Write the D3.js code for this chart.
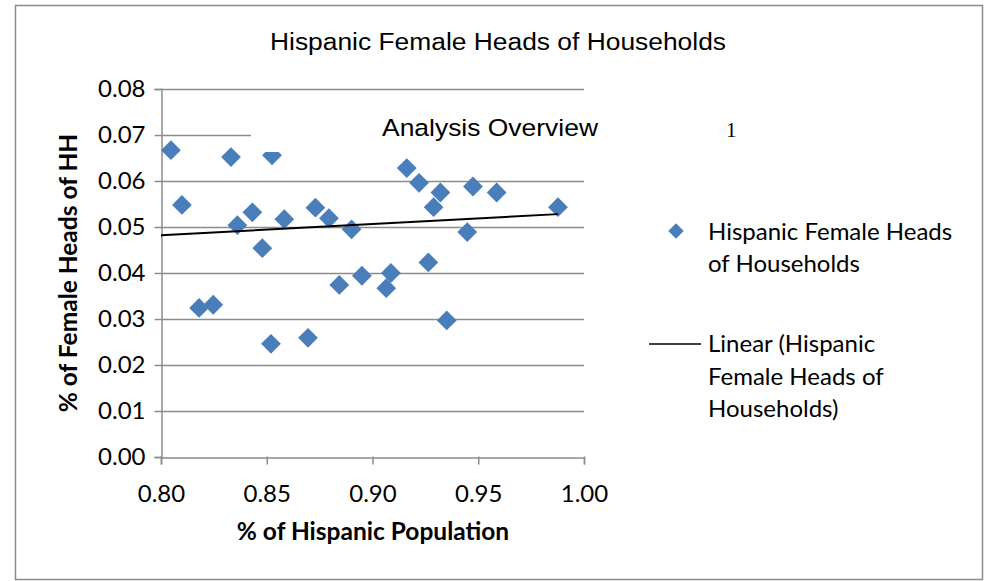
<!DOCTYPE html>
<html>
<head>
<meta charset="utf-8">
<script src="https://cdn.jsdelivr.net/npm/d3@7"></script>
<style>
  html, body { margin: 0; padding: 0; background: #fff; }
  svg { display: block; }
</style>
</head>
<body>
<svg id="chart" width="989" height="581"></svg>
<script>
// Share of Hispanic population per area (x) and share of female heads of households (y)
const hispanicShare = [
  0.8047, 0.8099, 0.8180, 0.8247, 0.8331, 0.8361, 0.8432, 0.8479, 0.8525, 0.8583,
  0.8520, 0.8592, 0.8730, 0.8794, 0.8901, 0.8843, 0.8950, 0.8695, 0.9162, 0.9220,
  0.9321, 0.9289, 0.9475, 0.9587, 0.9877, 0.9448, 0.9264, 0.9087, 0.9065, 0.9351,
  0.9584
];
const femaleHeads = [
  0.0667, 0.0548, 0.0324, 0.0331, 0.0652, 0.0504, 0.0532, 0.0454, 0.0656, 0.0517,
  0.0246, 0.0754, 0.0542, 0.0519, 0.0495, 0.0374, 0.0394, 0.0259, 0.0628, 0.0596,
  0.0575, 0.0543, 0.0588, 0.0575, 0.0543, 0.0489, 0.0423, 0.0400, 0.0367, 0.0297,
  0.0754
];
// linear trendline coefficients: y = intercept + slope * x
const trendIntercept = [0.0286];
const trendSlope = [0.0245];

const xTicks = [0.80, 0.85, 0.90, 0.95, 1.00];
const yTicks = [0.00, 0.01, 0.02, 0.03, 0.04, 0.05, 0.06, 0.07, 0.08];

const chartTitle = "Hispanic Female Heads of Households";
const seriesLabel = ["Hispanic Female Heads", "of Households"];
const trendLabel = ["Linear (Hispanic", "Female Heads of", "Households)"];

const svg = d3.select("#chart");
const plot = { left: 161, right: 584, top: 89, bottom: 457 };
const blue = "#4A7EBB";
const grey = "#8c8c8c";
const sans = "Lato, 'Open Sans', sans-serif";

const x = d3.scaleLinear().domain([0.80, 1.00]).range([plot.left, plot.right]);
const y = d3.scaleLinear().domain([0.00, 0.08]).range([plot.bottom, plot.top]);

// chart frame
svg.append("rect")
  .attr("x", 15.5).attr("y", 5.5).attr("width", 967).attr("height", 574)
  .attr("fill", "#fff").attr("stroke", grey).attr("stroke-width", 1.5);

// horizontal gridlines
svg.append("g").selectAll("line").data(yTicks.slice(1)).join("line")
  .attr("x1", plot.left).attr("x2", plot.right)
  .attr("y1", d => Math.round(y(d)) + 0.5).attr("y2", d => Math.round(y(d)) + 0.5)
  .attr("stroke", grey).attr("stroke-width", 1.5);

// axes
const yAxis = svg.append("g")
  .attr("transform", `translate(${plot.left + 0.5},0)`)
  .call(d3.axisLeft(y).tickValues(yTicks).tickFormat(d3.format(".2f")).tickSize(7).tickPadding(9));
const xAxis = svg.append("g")
  .attr("transform", `translate(0,${Math.round(plot.bottom) + 0.5})`)
  .call(d3.axisBottom(x).tickValues(xTicks).tickFormat(d3.format(".2f")).tickSize(7).tickPadding(20));

[yAxis, xAxis].forEach(g => {
  g.select(".domain").attr("stroke", grey).attr("stroke-width", 1.5);
  g.selectAll(".tick line").attr("stroke", grey).attr("stroke-width", 1.5);
  g.selectAll(".tick text").attr("font-family", sans).attr("font-size", 24).attr("fill", "#000");
});
xAxis.selectAll(".tick line").attr("y1", -1);

// data points as diamonds
const pts = svg.append("g");
hispanicShare.forEach((hx, i) => {
  pts.append("rect")
    .attr("x", -7).attr("y", -7).attr("width", 14).attr("height", 14)
    .attr("fill", blue)
    .attr("transform", `translate(${x(hx)},${y(femaleHeads[i])}) rotate(45)`);
});

// trendline across the data range
const tx0 = 0.80, tx1 = d3.max(hispanicShare);
const trendY = v => trendIntercept[0] + trendSlope[0] * v;
svg.append("line")
  .attr("x1", x(tx0)).attr("y1", y(trendY(tx0)))
  .attr("x2", x(tx1)).attr("y2", y(trendY(tx1)))
  .attr("stroke", "#000").attr("stroke-width", 2);

// overview text box laid over the top of the plot
svg.append("rect")
  .attr("x", 251).attr("y", 100).attr("width", 520).attr("height", 52)
  .attr("fill", "#fff");
svg.append("text")
  .attr("x", 382).attr("y", 136)
  .attr("font-family", "'Liberation Sans', Arial, sans-serif").attr("font-size", 24.5)
  .attr("textLength", 216).attr("lengthAdjust", "spacingAndGlyphs")
  .text("Analysis Overview");
svg.append("text")
  .attr("x", 726).attr("y", 137)
  .attr("font-family", "'Liberation Serif', 'Times New Roman', serif").attr("font-size", 21)
  .text("1");

// title
svg.append("text")
  .attr("x", 498).attr("y", 50).attr("text-anchor", "middle")
  .attr("font-family", "'Liberation Sans', Arial, sans-serif").attr("font-size", 23)
  .attr("textLength", 456).attr("lengthAdjust", "spacingAndGlyphs")
  .text(chartTitle);

// axis titles
svg.append("text")
  .attr("transform", `translate(77,273) rotate(-90)`).attr("text-anchor", "middle")
  .attr("font-family", sans).attr("font-size", 24.5).attr("font-weight", "bold")
  .text("% of Female Heads of HH");
svg.append("text")
  .attr("x", 373).attr("y", 540).attr("text-anchor", "middle")
  .attr("font-family", sans).attr("font-size", 24.5).attr("font-weight", "bold")
  .text("% of Hispanic Population");

// legend
const legend = svg.append("g").attr("font-family", sans).attr("font-size", 24);
legend.append("rect")
  .attr("x", -5.5).attr("y", -5.5).attr("width", 11).attr("height", 11)
  .attr("fill", blue).attr("transform", "translate(676,231) rotate(45)");
legend.append("text").attr("x", 708).attr("y", 240)
  .selectAll("tspan").data(seriesLabel).join("tspan")
  .attr("x", 708).attr("dy", (d, i) => i ? 32 : 0).text(d => d);
legend.append("line")
  .attr("x1", 649).attr("x2", 701).attr("y1", 344).attr("y2", 344)
  .attr("stroke", "#000").attr("stroke-width", 1.5);
legend.append("text").attr("x", 708).attr("y", 352)
  .selectAll("tspan").data(trendLabel).join("tspan")
  .attr("x", 708).attr("dy", (d, i) => i ? 32.5 : 0).text(d => d);
</script>
</body>
</html>
